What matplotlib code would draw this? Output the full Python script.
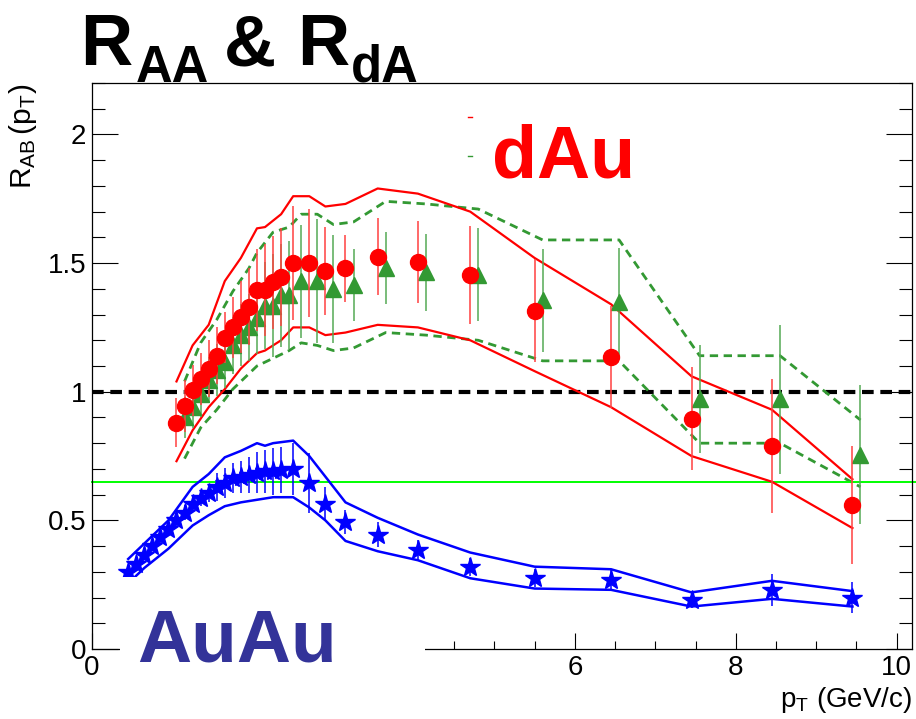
import matplotlib
matplotlib.use("Agg")
import matplotlib.pyplot as plt
from matplotlib.patches import Rectangle
from matplotlib.lines import Line2D
from matplotlib.ticker import MultipleLocator

plt.rcParams['font.family'] = ['Liberation Sans', 'DejaVu Sans']
plt.rcParams['mathtext.fontset'] = 'custom'
plt.rcParams['mathtext.rm'] = 'Liberation Sans'
plt.rcParams['mathtext.it'] = 'Liberation Sans:italic'
plt.rcParams['mathtext.bf'] = 'Liberation Sans:bold'

# ---- d+Au, set 1 (red circles) ----
red_pt = [1.05, 1.15, 1.25, 1.35, 1.45, 1.55, 1.65, 1.75, 1.85, 1.95, 2.05, 2.15, 2.25,
          2.35, 2.5, 2.7, 2.9, 3.15, 3.55, 4.05, 4.7, 5.5, 6.45, 7.45, 8.45, 9.45]
red_r = [0.88, 0.945, 1.005, 1.05, 1.09, 1.14, 1.21, 1.25, 1.29, 1.33, 1.395, 1.395, 1.425,
         1.445, 1.50, 1.50, 1.47, 1.48, 1.525, 1.505, 1.455, 1.315, 1.135, 0.895, 0.79, 0.56]
red_err = [0.095, 0.10, 0.10, 0.10, 0.11, 0.11, 0.10, 0.12, 0.14, 0.15, 0.16, 0.18, 0.18,
           0.19, 0.22, 0.21, 0.17, 0.13, 0.15, 0.16, 0.19, 0.20, 0.20, 0.20, 0.26, 0.23]

# ---- d+Au, set 2 (green triangles) ----
green_pt = [1.15, 1.25, 1.35, 1.45, 1.55, 1.65, 1.75, 1.85, 1.95, 2.05, 2.15, 2.25, 2.35,
            2.45, 2.6, 2.8, 3.0, 3.25, 3.65, 4.15, 4.8, 5.6, 6.55, 7.55, 8.55, 9.55]
green_r = [0.90, 0.94, 0.99, 1.045, 1.085, 1.115, 1.18, 1.22, 1.25, 1.285, 1.335, 1.335, 1.375,
           1.375, 1.43, 1.43, 1.40, 1.415, 1.48, 1.465, 1.455, 1.355, 1.35, 0.97, 0.97, 0.755]
green_err = [0.08, 0.08, 0.09, 0.09, 0.10, 0.10, 0.11, 0.12, 0.13, 0.14, 0.17, 0.20, 0.20,
             0.21, 0.22, 0.24, 0.21, 0.14, 0.14, 0.15, 0.18, 0.20, 0.21, 0.21, 0.29, 0.27]

# ---- Au+Au (blue stars) ----
blue_pt = [0.45, 0.55, 0.65, 0.75, 0.85, 0.95, 1.05, 1.15, 1.25, 1.35, 1.45, 1.55, 1.65, 1.75,
           1.85, 1.95, 2.05, 2.15, 2.25, 2.35, 2.5, 2.7, 2.9, 3.15, 3.55, 4.05, 4.7, 5.5,
           6.45, 7.45, 8.45, 9.45]
blue_r = [0.30, 0.33, 0.365, 0.40, 0.435, 0.465, 0.50, 0.53, 0.565, 0.585, 0.605, 0.63, 0.645,
          0.665, 0.67, 0.675, 0.685, 0.69, 0.69, 0.695, 0.70, 0.645, 0.565, 0.495, 0.445,
          0.385, 0.32, 0.275, 0.27, 0.19, 0.23, 0.20]
blue_err = [0.02, 0.02, 0.02, 0.02, 0.025, 0.025, 0.025, 0.03, 0.03, 0.03, 0.035, 0.055, 0.058,
            0.058, 0.062, 0.07, 0.08, 0.085, 0.093, 0.09, 0.10, 0.117, 0.066, 0.047, 0.047,
            0.04, 0.035, 0.035, 0.04, 0.03, 0.062, 0.062]

# ---- model bands ----
red_band_pt = [1.05, 1.25, 1.45, 1.65, 1.85, 2.05, 2.15, 2.35, 2.5, 2.7, 2.9, 3.15, 3.55,
               4.05, 4.7, 5.5, 6.45, 7.45, 8.45, 9.45]
red_band_hi = [1.04, 1.18, 1.26, 1.43, 1.52, 1.635, 1.64, 1.69, 1.76, 1.76, 1.72, 1.73, 1.79,
               1.77, 1.70, 1.52, 1.34, 1.06, 0.93, 0.66]
red_band_lo = [0.73, 0.85, 0.94, 1.01, 1.09, 1.15, 1.16, 1.20, 1.25, 1.25, 1.22, 1.23, 1.26,
               1.25, 1.20, 1.08, 0.94, 0.75, 0.65, 0.47]

green_band_pt = [1.15, 1.35, 1.55, 1.75, 1.95, 2.05, 2.25, 2.45, 2.6, 2.8, 3.0, 3.25, 3.65,
                 4.15, 4.8, 5.6, 6.55, 7.55, 8.55, 9.55]
green_band_hi = [1.04, 1.19, 1.28, 1.39, 1.48, 1.54, 1.62, 1.64, 1.69, 1.69, 1.65, 1.66, 1.74,
                 1.73, 1.71, 1.59, 1.59, 1.14, 1.14, 0.89]
green_band_lo = [0.74, 0.86, 0.93, 1.01, 1.07, 1.10, 1.13, 1.16, 1.19, 1.18, 1.16, 1.17, 1.23,
                 1.22, 1.20, 1.12, 1.12, 0.80, 0.80, 0.63]

blue_band_pt = [0.45, 0.65, 0.95, 1.25, 1.45, 1.65, 1.85, 2.05, 2.15, 2.25, 2.5, 2.7, 2.9,
                3.15, 3.55, 4.05, 4.7, 5.5, 6.45, 7.45, 8.45, 9.45]
blue_band_hi = [0.35, 0.41, 0.50, 0.63, 0.68, 0.745, 0.77, 0.80, 0.79, 0.80, 0.81, 0.75, 0.67,
                0.57, 0.51, 0.445, 0.375, 0.32, 0.31, 0.22, 0.265, 0.225]
blue_band_lo = [0.255, 0.315, 0.39, 0.48, 0.52, 0.555, 0.57, 0.58, 0.585, 0.59, 0.59, 0.55,
                0.50, 0.42, 0.38, 0.345, 0.275, 0.235, 0.23, 0.165, 0.195, 0.165]

ref_level = 0.65
x_ticks = [0, 2, 4, 6, 8, 10]
x_tick_labels = ['0', '', '', '6', '8', '10']   # 2 and 4 sit under the Au+Au label panel
y_ticks = [0, 0.5, 1, 1.5, 2]
y_tick_labels = ['0', '0.5', '1', '1.5', '2']

W, H = 916, 719
fig = plt.figure(figsize=(W / 100, H / 100), dpi=100)
ax = fig.add_axes([92 / W, 1 - 649 / H, (912 - 92) / W, (649 - 83) / H])
ax.set_xlim(0, 10.19)
ax.set_ylim(0, 2.2)

RED = '#ff0000'
GREEN = '#339933'
BLUE = '#0000ff'

# bands
for ys in (green_band_hi, green_band_lo):
    ax.plot(green_band_pt, ys, color=GREEN, lw=2.0, dashes=(3, 2), zorder=2)
for ys in (red_band_hi, red_band_lo):
    ax.plot(red_band_pt, ys, color=RED, lw=1.6, zorder=3)
for ys in (blue_band_hi, blue_band_lo):
    ax.plot(blue_band_pt, ys, color=BLUE, lw=1.8, zorder=3)

# reference lines
ax.axhline(1.0, color='black', lw=3, dashes=(2.8, 1.6), zorder=1)
ax.plot([0, 10.35], [ref_level, ref_level], color='#00ff00', lw=1.4, clip_on=False, zorder=2)

# data points
ax.errorbar(green_pt, green_r, yerr=green_err, fmt='^', color=GREEN, ms=11, mec=GREEN,
            elinewidth=1.1, ecolor='#55aa55', capsize=0, zorder=4)
ax.errorbar(red_pt, red_r, yerr=red_err, fmt='o', color=RED, ms=11.5, mec=RED,
            elinewidth=1.1, ecolor='#ff4040', capsize=0, zorder=5)
ax.errorbar(blue_pt, blue_r, yerr=blue_err, fmt='*', color=BLUE, ms=15, mec=BLUE,
            elinewidth=1.1, capsize=0, zorder=5)

# axes styling
for s in ax.spines.values():
    s.set_linewidth(0.9)
ax.set_xticks(x_ticks, x_tick_labels)
ax.set_yticks(y_ticks, y_tick_labels)
ax.xaxis.set_minor_locator(MultipleLocator(0.5))
ax.yaxis.set_minor_locator(MultipleLocator(0.1))
ax.tick_params(axis='y', which='major', direction='in', length=18.5, width=0.8,
               right=True, labelsize=20, pad=4)
ax.tick_params(axis='y', which='minor', direction='in', length=9.3, width=0.8, right=True)
ax.tick_params(axis='x', which='major', direction='in', length=11.5, width=0.8,
               top=False, labelsize=20, pad=4)
ax.tick_params(axis='x', which='minor', direction='in', length=5.8, width=0.8, top=False)

# axis titles
fig.text(7 / W, 1 - 84 / H, r'$\mathrm{R_{AB}\,(p_{T})}$', rotation=90, fontsize=21.5,
         ha='left', va='top')
fig.text(912 / W, 1 - 707 / H, r'$\mathrm{p_{T}}$ (GeV/c)', fontsize=20,
         ha='right', va='baseline')

# white panel under the Au+Au label
fig.patches.append(Rectangle((120 / W, 0), (425 - 120) / W, (719 - 577) / H,
                             transform=fig.transFigure, facecolor='white',
                             edgecolor='none', zorder=5))


def put(xpx, ypx, s, size, color='black'):
    fig.text(xpx / W, 1 - ypx / H, s, fontsize=size, fontweight='bold', color=color,
             ha='left', va='baseline', zorder=6)


# headline
put(80, 65, 'R', 52)
put(136, 82, 'AA', 36.5)
put(224, 65, '&', 52)
put(297, 65, 'R', 52)
put(351, 82, 'dA', 36.5)

# system labels
put(492, 177, 'dAu', 53, RED)
put(137, 661, 'AuAu', 54, '#333399')

# small leftover legend marks
fig.lines.append(Line2D([468 / W, 472 / W], [1 - 117 / H] * 2, color=RED, lw=1,
                        transform=fig.transFigure))
fig.lines.append(Line2D([468 / W, 472 / W], [1 - 156 / H] * 2, color=GREEN, lw=1,
                        transform=fig.transFigure))

fig.savefig('out.png', dpi=100)
